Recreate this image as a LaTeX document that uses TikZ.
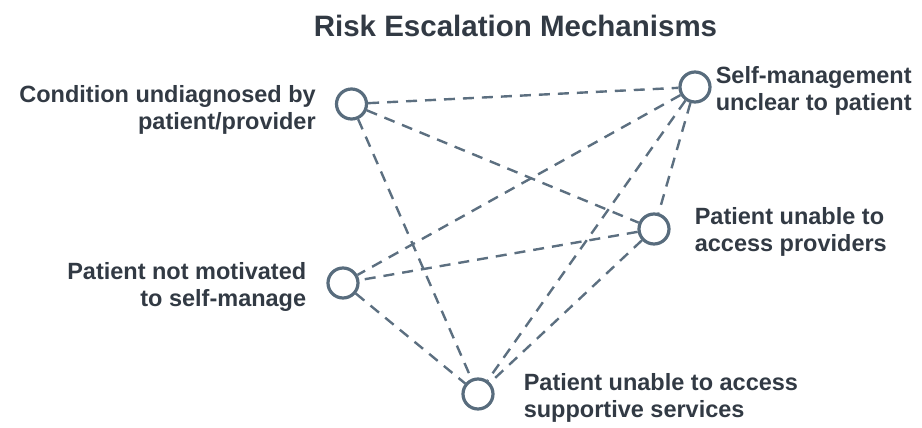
\documentclass[tikz,border=0pt]{standalone}
\usepackage{fontspec}
\setmainfont{Liberation Sans}
\usepackage{tikz}
\usetikzlibrary{positioning}
\definecolor{slate}{RGB}{88,108,125}
\definecolor{dashgray}{RGB}{92,111,128}
\definecolor{inkdark}{RGB}{50,58,68}

\tikzset{
	riskpoint/.style={circle, draw=slate, line width=3.2pt, fill=white, minimum size=30pt, inner sep=0pt},
	risklabel/.style={inner sep=0pt, text=inkdark, font=\fontsize{23.5}{27}\selectfont\bfseries},
	risklink/.style={dashgray, line width=2.4pt, dash pattern=on 11pt off 8pt}
}

\begin{document}
\begin{tikzpicture}[x=1pt, y=-1pt]
		\useasboundingbox (0,0) rectangle (922,428);
		
		\node [text=inkdark, font=\fontsize{29.5}{34}\selectfont\bfseries] (title) at (515.5,26) {Risk Escalation Mechanisms};
		
		% mechanisms
		\node [riskpoint] (undiag) at (351.5,104) {};
		\node [riskpoint] (unclear) at (695,87) {};
		\node [riskpoint] (providers) at (654,229) {};
		\node [riskpoint] (motiv) at (343,283) {};
		\node [riskpoint] (support) at (478,394) {};
		
		% links between them
		\foreach \a/\b in {undiag/unclear, undiag/providers, undiag/support, unclear/providers, unclear/motiv, unclear/support, providers/motiv, providers/support, motiv/support}{
			\draw [risklink] (\a) -- (\b);
		}
		
		\node [risklabel, align=right, left=19pt of undiag, yshift=-5.5pt] (undiagtxt) {Condition undiagnosed by\\patient/provider};
		\node [risklabel, align=left, right=4pt of unclear, yshift=-4pt] (uncleartxt) {Self-management\\unclear to patient};
		\node [risklabel, align=left, right=24pt of providers, yshift=-3pt] (providerstxt) {Patient unable to\\access providers};
		\node [risklabel, align=right, left=20pt of motiv, yshift=-4pt] (motivtxt) {Patient not motivated\\to self-manage};
		\node [risklabel, align=left, right=29pt of support, yshift=-4pt] (supporttxt) {Patient unable to access\\supportive services};
	\end{tikzpicture}
\end{document}
